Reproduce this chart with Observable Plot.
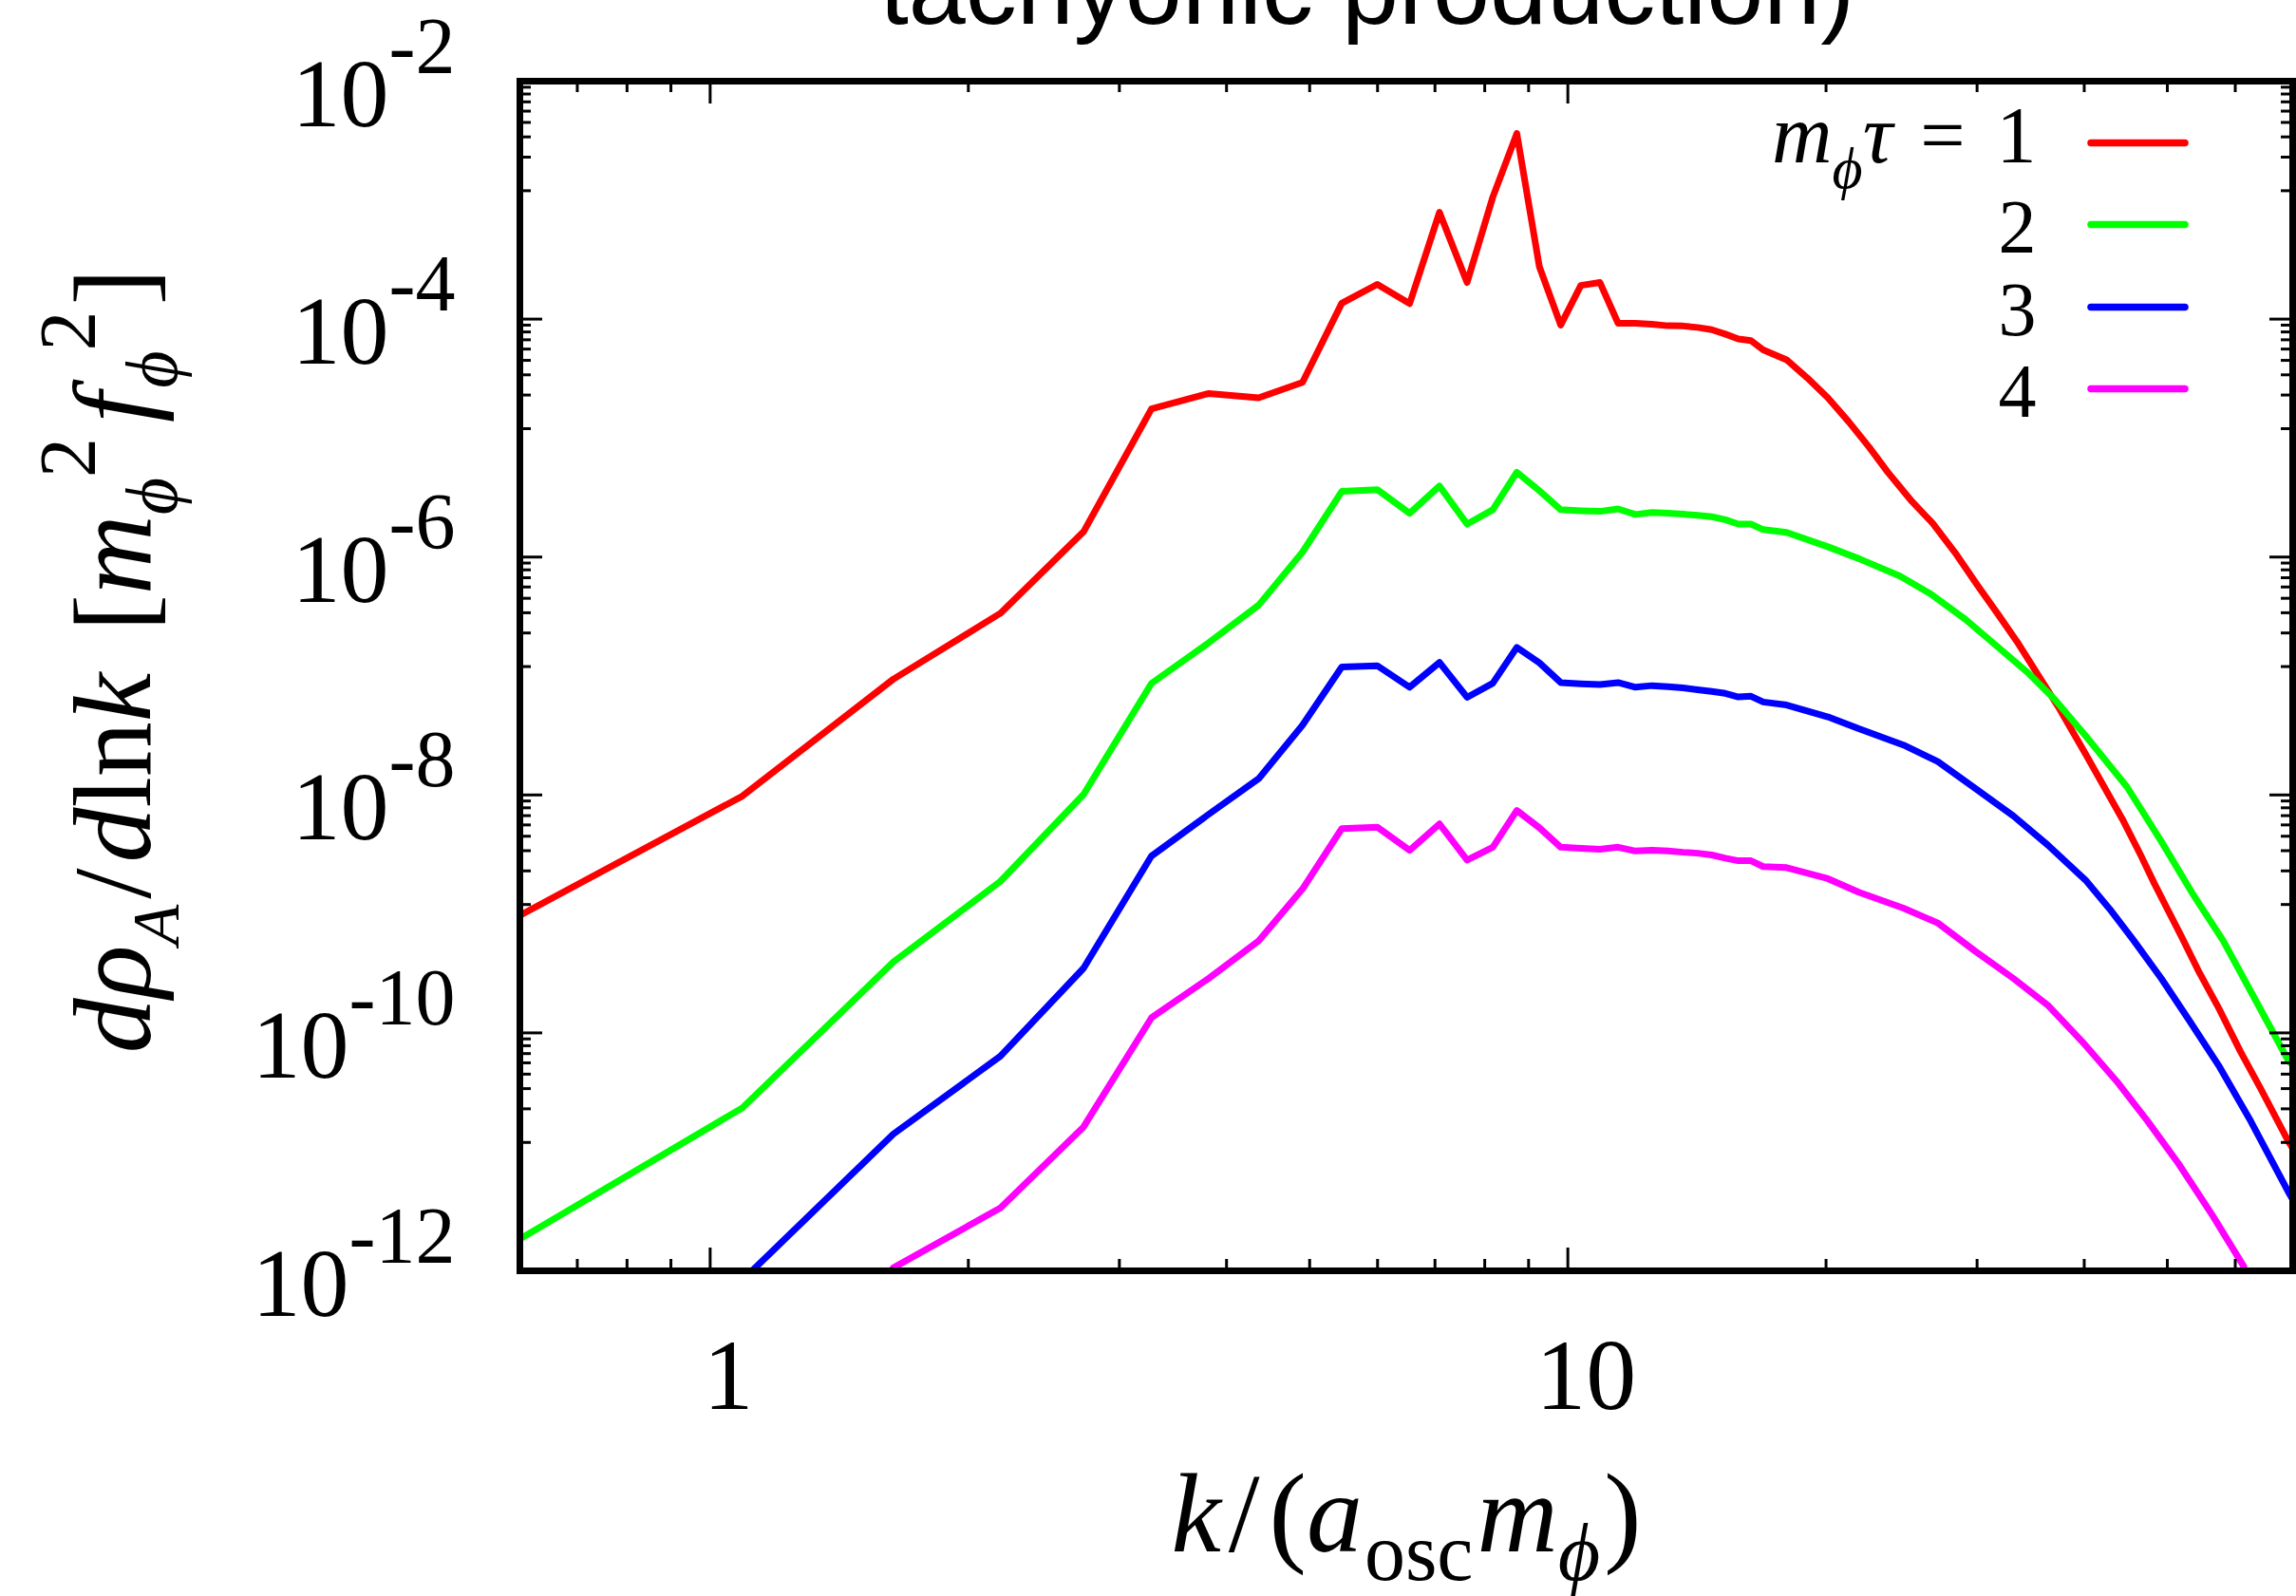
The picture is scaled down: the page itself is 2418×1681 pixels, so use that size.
<!DOCTYPE html>
<html>
<head>
<meta charset="utf-8">
<script src="https://cdn.jsdelivr.net/npm/d3@7"></script>
<script src="https://cdn.jsdelivr.net/npm/@observablehq/plot@0.6"></script>
<style>
  html, body { margin: 0; padding: 0; background: #fff; overflow: hidden; }
  #chart svg { display: block; }
</style>
</head>
<body>
<div id="chart"></div>
<script>
// ---------------- data ----------------
// m_phi tau = 1
const k1 = [0.6, 1.09, 1.635, 2.18, 2.725, 3.27, 3.815, 4.36, 4.905, 5.45, 5.995, 6.54, 7.085, 7.63, 8.175, 8.72, 9.265, 9.81, 10.355, 10.9, 11.445, 11.99, 12.535, 13.08, 13.625, 14.17, 14.715, 15.26, 15.805, 16.35, 16.895, 17.99, 19.02, 20.10, 21.24, 22.45, 23.62, 25.19, 26.63, 28.28, 30.02, 31.73, 33.39, 35.28, 37.30, 40.15, 44.44, 46.54, 48.29, 51.98, 54.45, 57.54, 60.81, 64.28, 69.21, 70];
const rho1 = [9.72e-10, 9.77e-9, 9.40e-8, 3.37e-7, 1.63e-6, 1.76e-5, 2.37e-5, 2.18e-5, 2.94e-5, 1.36e-4, 1.96e-4, 1.35e-4, 7.89e-4, 2.03e-4, 1.06e-3, 3.63e-3, 2.75e-4, 8.91e-5, 1.92e-4, 2.03e-4, 9.23e-5, 9.23e-5, 9.04e-5, 8.79e-5, 8.75e-5, 8.51e-5, 8.15e-5, 7.48e-5, 6.82e-5, 6.59e-5, 5.51e-5, 4.55e-5, 3.20e-5, 2.18e-5, 1.38e-5, 8.41e-6, 5.14e-6, 2.93e-6, 1.92e-6, 1.09e-6, 5.81e-7, 3.31e-7, 1.95e-7, 1.04e-7, 5.52e-8, 2.21e-8, 6.03e-9, 3.13e-9, 1.80e-9, 6.37e-10, 3.24e-10, 1.56e-10, 7.02e-11, 3.37e-11, 1.22e-11, 1.07e-11];

// m_phi tau = 2
const k2 = [0.6, 1.09, 1.635, 2.18, 2.725, 3.27, 3.815, 4.36, 4.905, 5.45, 5.995, 6.54, 7.085, 7.63, 8.175, 8.72, 9.265, 9.81, 10.355, 10.9, 11.445, 11.99, 12.535, 13.08, 13.625, 14.17, 14.715, 15.26, 15.805, 16.35, 16.895, 17.99, 20.10, 21.84, 24.39, 26.51, 29.08, 31.88, 34.32, 36.96, 40.15, 44.86, 49.19, 53.45, 58.07, 63.1, 69.21, 70];
const rho2 = [1.85e-12, 2.34e-11, 3.94e-10, 1.88e-9, 1.01e-8, 8.67e-8, 1.91e-7, 3.94e-7, 1.10e-6, 3.56e-6, 3.69e-6, 2.33e-6, 3.95e-6, 1.89e-6, 2.50e-6, 5.16e-6, 3.61e-6, 2.50e-6, 2.45e-6, 2.42e-6, 2.54e-6, 2.28e-6, 2.37e-6, 2.34e-6, 2.29e-6, 2.24e-6, 2.18e-6, 2.06e-6, 1.89e-6, 1.89e-6, 1.70e-6, 1.61e-6, 1.22e-6, 9.70e-7, 6.93e-7, 4.88e-7, 2.99e-7, 1.70e-7, 1.08e-7, 6.35e-8, 3.14e-8, 1.17e-8, 4.08e-9, 1.50e-9, 5.98e-10, 1.99e-10, 5.83e-11, 5.37e-11];

// m_phi tau = 3
const k3 = [1.09, 1.635, 2.18, 2.725, 3.27, 3.815, 4.36, 4.905, 5.45, 5.995, 6.54, 7.085, 7.63, 8.175, 8.72, 9.265, 9.81, 10.355, 10.9, 11.445, 11.99, 12.535, 13.08, 13.625, 14.17, 14.715, 15.26, 15.805, 16.35, 16.895, 17.99, 20.10, 21.84, 24.62, 27.0, 29.88, 33.07, 36.27, 40.15, 42.83, 45.69, 49.19, 52.96, 57.54, 62.52, 69.21, 70];
const rho3 = [8.32e-13, 1.41e-11, 6.37e-11, 3.50e-10, 3.07e-9, 6.90e-9, 1.37e-8, 3.86e-8, 1.19e-7, 1.22e-7, 8.05e-8, 1.30e-7, 6.62e-8, 8.69e-8, 1.74e-7, 1.29e-7, 8.81e-8, 8.61e-8, 8.49e-8, 8.81e-8, 8.05e-8, 8.30e-8, 8.13e-8, 7.94e-8, 7.67e-8, 7.41e-8, 7.14e-8, 6.67e-8, 6.76e-8, 6.05e-8, 5.70e-8, 4.53e-8, 3.61e-8, 2.63e-8, 1.91e-8, 1.13e-8, 6.67e-9, 3.80e-9, 1.92e-9, 1.10e-9, 5.98e-10, 2.87e-10, 1.29e-10, 5.16e-11, 1.82e-11, 4.58e-12, 3.98e-12];

// m_phi tau = 4
const k4 = [1.635, 2.18, 2.725, 3.27, 3.815, 4.36, 4.905, 5.45, 5.995, 6.54, 7.085, 7.63, 8.175, 8.72, 9.265, 9.81, 10.355, 10.9, 11.445, 11.99, 12.535, 13.08, 13.625, 14.17, 14.715, 15.26, 15.805, 16.35, 16.895, 17.99, 20.10, 21.84, 24.62, 27.0, 29.88, 33.07, 36.27, 39.78, 43.63, 47.40, 51.51, 56.49, 61.39];
const rho4 = [1.06e-12, 3.38e-12, 1.62e-11, 1.34e-10, 2.88e-10, 5.93e-10, 1.62e-9, 5.21e-9, 5.37e-9, 3.43e-9, 5.71e-9, 2.84e-9, 3.64e-9, 7.41e-9, 5.30e-9, 3.64e-9, 3.56e-9, 3.50e-9, 3.64e-9, 3.38e-9, 3.43e-9, 3.39e-9, 3.30e-9, 3.24e-9, 3.13e-9, 2.94e-9, 2.80e-9, 2.80e-9, 2.50e-9, 2.45e-9, 1.98e-9, 1.52e-9, 1.12e-9, 8.39e-10, 4.84e-10, 2.87e-10, 1.71e-10, 8.45e-11, 3.93e-11, 1.82e-11, 7.98e-12, 2.90e-12, 1.09e-12];

const seriesLabels = ["1", "2", "3", "4"];
const seriesColors = ["#ff0000", "#00ff00", "#0000ff", "#ff00ff"];

// axes
const xDomain = [0.6, 70];
const yDomain = [1e-12, 1e-2];
const xMajorTicks = [1, 10];
const xTickLabels = ["1", "10"];
const xMinorTicks = [0.7, 0.8, 0.9, 2, 3, 4, 5, 6, 7, 8, 9, 20, 30, 40, 50, 60];
const yMajorTicks = [1e-2, 1e-4, 1e-6, 1e-8, 1e-10, 1e-12];
const yTickExponents = ["-2", "-4", "-6", "-8", "-10", "-12"];
const yMinorSteps = [12, 23, 34, 45, 56, 67, 78, 89]; // gnuplot-style linear minor tics between majors
const yMinorTicks = yMajorTicks.slice(1).flatMap(lo => yMinorSteps.map(m => lo * m));

const titleText = "tachyonic production)";
const xTitlePlain = "k/(aoscmϕ)";
const yTitlePlain = "dρA/dlnk [mϕ2fϕ2]";
const legendTitlePlain = "mϕτ = 1";

// ---------------- layout ----------------
const W = 2418, H = 1681;
const mLeft = 547, mRight = 4, mTop = 85, mBottom = 343;
const plotW = W - mLeft - mRight;
const plotH = H - mTop - mBottom;
const serif = "'Liberation Serif', 'DejaVu Serif', serif";
const sans = "'Liberation Sans', Arial, sans-serif";
const majorLen = 24, minorLen = 12, tickW = 3;

const series = [[k1, rho1], [k2, rho2], [k3, rho3], [k4, rho4]].map(([ks, vs], i) =>
  ks.map((k, j) => ({k, v: vs[j], s: seriesLabels[i]})));

const legendLineY = [65, 151, 238, 324];   // offsets below the frame top
const legendTextY = [85, 180, 267, 353];

const marks = [];
series.forEach((d, i) => {
  marks.push(Plot.line(d, {x: "k", y: "v", stroke: seriesColors[i], strokeWidth: 7,
    strokeLinejoin: "round", clip: true}));
});

// ticks (inward, mirrored on all four sides)
const tick = {stroke: "black", strokeWidth: tickW};
marks.push(
  Plot.ruleX(xMajorTicks, {...tick, insetTop: plotH - majorLen}),
  Plot.ruleX(xMajorTicks, {...tick, insetBottom: plotH - majorLen}),
  Plot.ruleX(xMinorTicks, {...tick, insetTop: plotH - minorLen}),
  Plot.ruleX(xMinorTicks, {...tick, insetBottom: plotH - minorLen}),
  Plot.ruleY(yMajorTicks, {...tick, insetRight: plotW - majorLen}),
  Plot.ruleY(yMajorTicks, {...tick, insetLeft: plotW - majorLen}),
  Plot.ruleY(yMinorTicks, {...tick, insetRight: plotW - minorLen}),
  Plot.ruleY(yMinorTicks, {...tick, insetLeft: plotW - minorLen})
);

// tick labels
marks.push(
  Plot.text(yMajorTicks, {y: d => d, text: (d, i) => "10" + yTickExponents[i], frameAnchor: "left",
    textAnchor: "end", lineAnchor: "bottom", dx: -68, dy: 47, fontSize: 102, fontFamily: serif,
    fill: "black"}),
  Plot.text(xMajorTicks, {x: d => d, text: (d, i) => xTickLabels[i], frameAnchor: "bottom",
    textAnchor: "middle", lineAnchor: "bottom", dx: 19, dy: 145, fontSize: 106, fontFamily: serif,
    fill: "black"})
);

// axis titles + title
marks.push(
  Plot.text([xTitlePlain], {text: d => d, frameAnchor: "bottom", textAnchor: "middle",
    lineAnchor: "bottom", dy: 295, fontSize: 118, fontFamily: serif, fill: "black"}),
  Plot.text([yTitlePlain], {text: d => d, frameAnchor: "left", rotate: -90, textAnchor: "middle",
    lineAnchor: "bottom", dx: 157 - mLeft, dy: -16, fontSize: 116, fontFamily: serif, fill: "black"}),
  Plot.text([titleText], {text: d => d, frameAnchor: "top", textAnchor: "middle", lineAnchor: "bottom",
    dx: -41, dy: 24 - mTop, fontSize: 108, fontFamily: sans, fill: "black"})
);

// legend
seriesLabels.forEach((lab, i) => {
  marks.push(
    Plot.ruleY([yDomain[1]], {dy: legendLineY[i], insetLeft: 2202 - mLeft, insetRight: W - mRight - 2301,
      stroke: seriesColors[i], strokeWidth: 7.5, strokeLinecap: "round"}),
    Plot.text([i === 0 ? legendTitlePlain : lab], {text: d => d, frameAnchor: "top-right", textAnchor: "end",
      lineAnchor: "bottom", dx: 2144 - (W - mRight), dy: legendTextY[i], fontSize: 80, fontFamily: serif,
      fill: "black"})
  );
});

marks.push(Plot.frame({stroke: "black", strokeWidth: 7}));

const chart = Plot.plot({
  width: W, height: H,
  marginLeft: mLeft, marginRight: mRight, marginTop: mTop, marginBottom: mBottom,
  x: {type: "log", domain: xDomain, axis: null},
  y: {type: "log", domain: yDomain, axis: null},
  style: {background: "white"},
  marks
});

// ---------------- rich text (sub/superscripts, italics) ----------------
const richMap = new Map();
yTickExponents.forEach(e => richMap.set("10" + e, [{t: "10"}, {t: e, size: 84, dy: -56}]));
richMap.set(xTitlePlain, [
  {t: "k", it: true}, {t: "/", dx: 8}, {t: "(", dx: 10}, {t: "a", it: true},
  {t: "osc", size: 86, dy: 30, dx: 2}, {t: "m", it: true, dx: 4}, {t: "ϕ", it: true, size: 86, dy: 30}, {t: ")", dx: 4}
]);
richMap.set(yTitlePlain, [
  {t: "d", it: true}, {t: "ρ", it: true}, {t: "A", it: true, size: 70, dy: 30}, {t: "/", dx: 6},
  {t: "d", it: true, dx: 6}, {t: "ln"}, {t: "k", it: true}, {t: "[", dx: 44},
  {t: "m", it: true}, {t: "ϕ", it: true, size: 76, dy: 28}, {t: "2", size: 84, dy: -58},
  {t: "f", it: true, dx: 16}, {t: "ϕ", it: true, size: 76, dy: 28, dx: 4}, {t: "2", size: 84, dy: -58},
  {t: "]", dx: 6}
]);
richMap.set(legendTitlePlain, [
  {t: "m", it: true, size: 88}, {t: "ϕ", it: true, size: 62, dy: 27}, {t: "τ", it: true, size: 88},
  {t: " = ", dx: 8, size: 84}, {t: "1", dx: 12, size: 84}
]);

chart.querySelectorAll("text").forEach(t => {
  const segs = richMap.get(t.textContent);
  if (!segs) return;
  t.textContent = "";
  let shift = 0;
  for (const s of segs) {
    const ts = document.createElementNS("http://www.w3.org/2000/svg", "tspan");
    const target = s.dy || 0;
    if (target !== shift) { ts.setAttribute("dy", target - shift); shift = target; }
    if (s.dx) ts.setAttribute("dx", s.dx);
    if (s.size) ts.setAttribute("font-size", s.size);
    if (s.it) ts.setAttribute("font-style", "italic");
    ts.textContent = s.t;
    t.appendChild(ts);
  }
});

document.getElementById("chart").appendChild(chart);
</script>
</body>
</html>
